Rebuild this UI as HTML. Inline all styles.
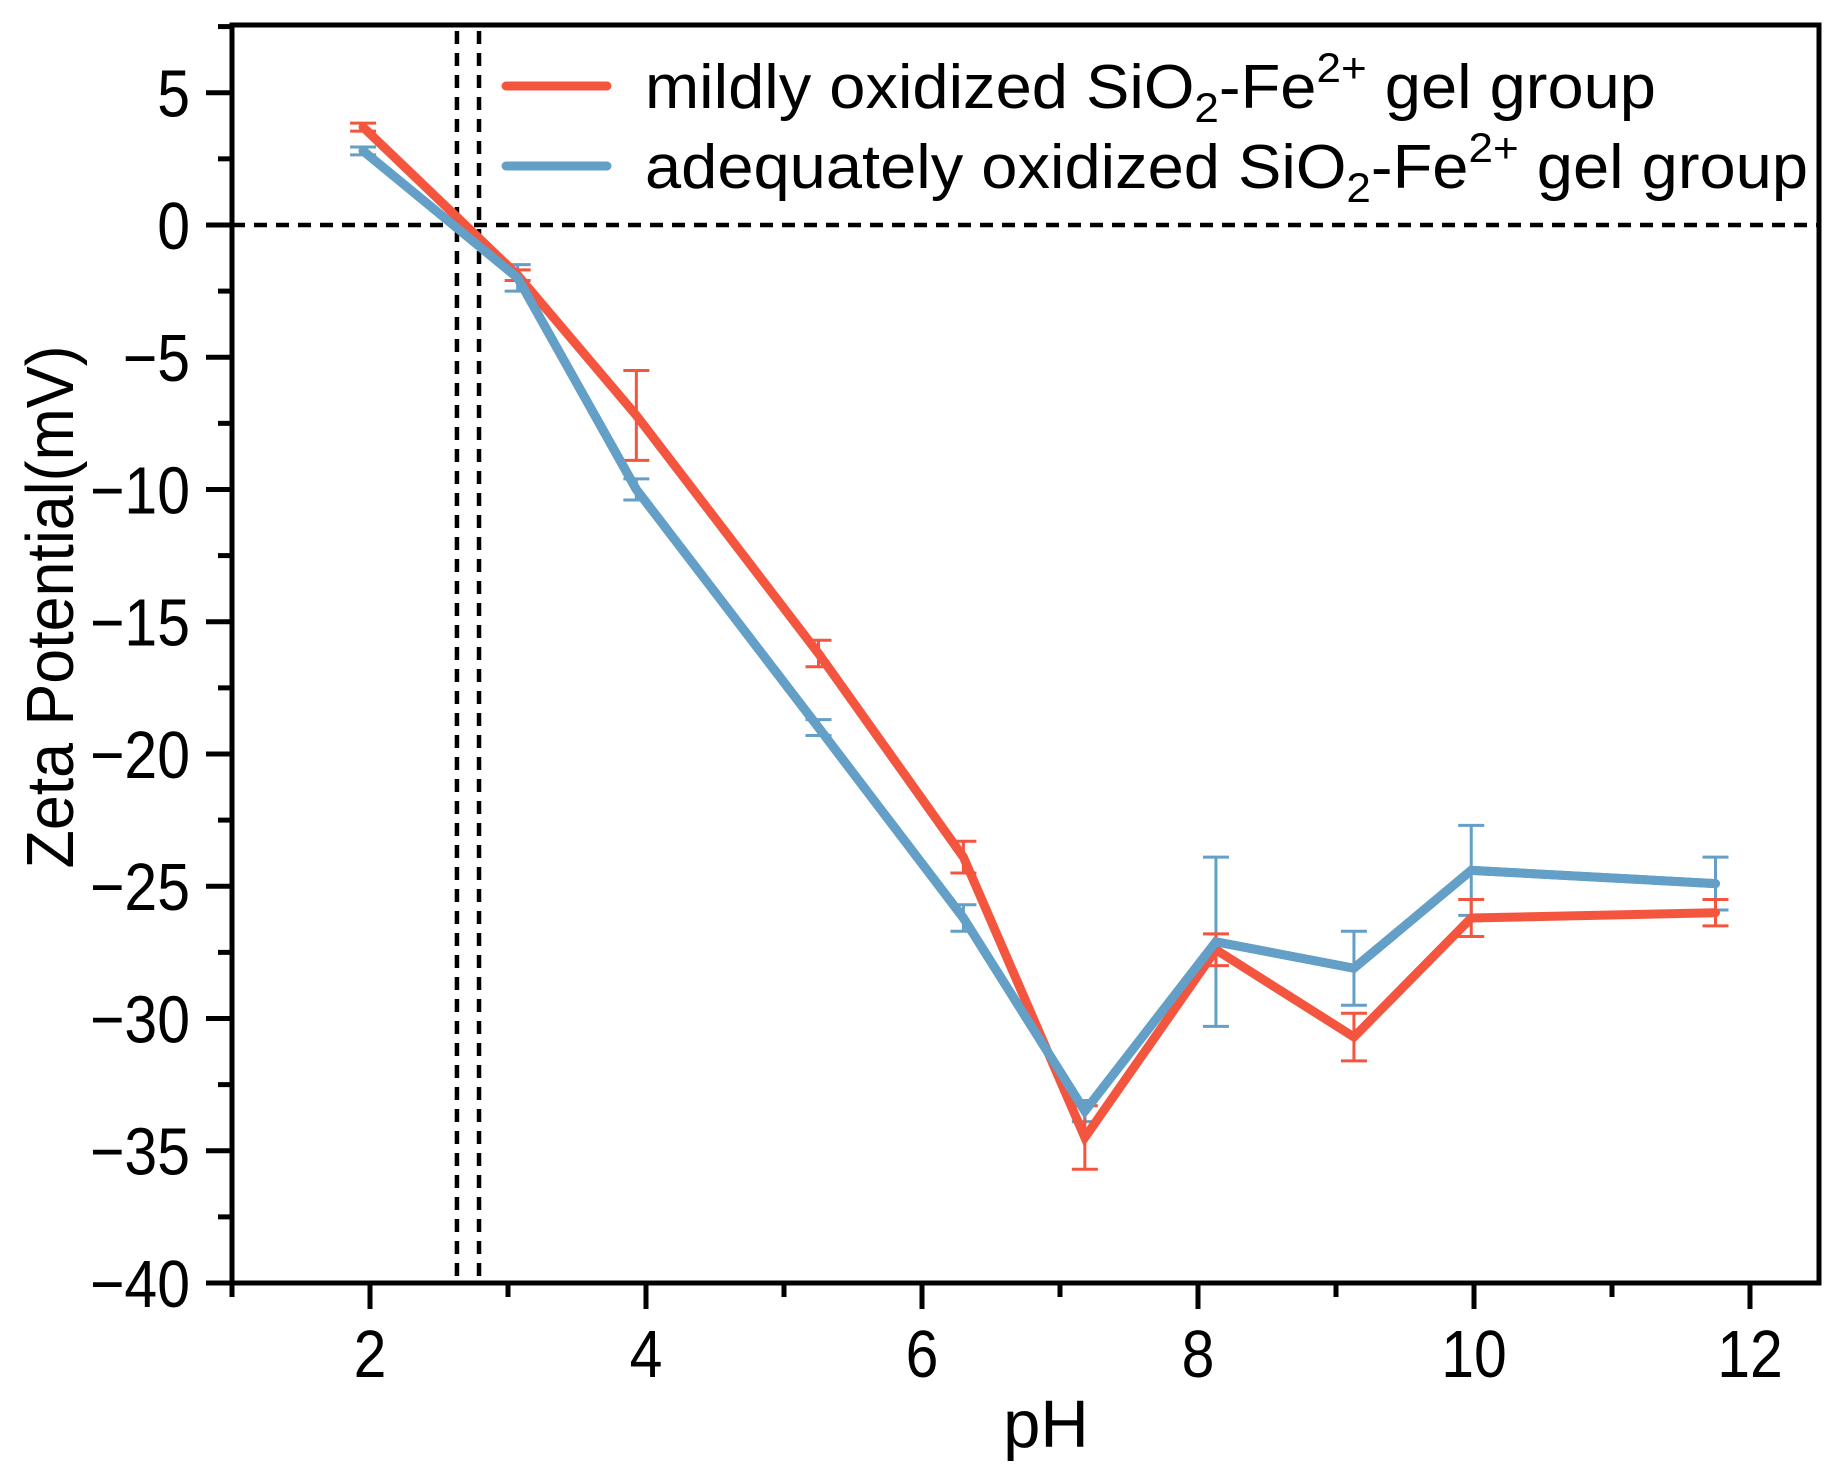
<!DOCTYPE html>
<html><head><meta charset="utf-8"><style>
html,body{margin:0;padding:0;background:#fff}
svg{display:block}
text{font-family:"Liberation Sans",Arial,sans-serif;fill:#000}
</style></head><body>
<svg id="chart" width="1841" height="1483" viewBox="0 0 1841 1483" xmlns="http://www.w3.org/2000/svg">
<g id="plot"></g>
</svg>
<script>
const phRed = [1.95, 3.07, 3.93, 5.25, 6.3, 7.18, 8.13, 9.13, 9.98, 11.75];
const zetaRed = [3.7, -1.9, -7.2, -16.2, -23.9, -34.5, -27.4, -30.7, -26.2, -26.0];
const errRed = [0.15, 0.2, 1.7, 0.5, 0.6, 1.2, 0.6, 0.9, 0.7, 0.5];
const phBlue = [1.95, 3.07, 3.93, 5.25, 6.3, 7.18, 8.13, 9.13, 9.98, 11.75];
const zetaBlue = [2.8, -2.0, -10.0, -19.0, -26.2, -33.5, -27.1, -28.1, -24.4, -24.9];
const errBlue = [0.15, 0.5, 0.4, 0.3, 0.5, 0.4, 3.2, 1.4, 1.7, 1.0];
const xTicks = [2, 4, 6, 8, 10, 12];
const yTicks = [5, 0, -5, -10, -15, -20, -25, -30, -35, -40];
const iepLines = [2.63, 2.79];

const L=232,R=1819,T=25,B=1283;
const X0=1,X1=12.5,Y0=-40,Y1=7.56;
const sx=v=>L+(v-X0)/(X1-X0)*(R-L);
const sy=v=>B-(v-Y0)/(Y1-Y0)*(B-T);
const NS="http://www.w3.org/2000/svg";
const g=document.getElementById('plot');
function mk(tag,attrs,parent){const e=document.createElementNS(NS,tag);for(const k in attrs)e.setAttribute(k,attrs[k]);(parent||g).appendChild(e);return e;}

let z=mk('line',{x1:L,x2:R,y1:sy(0),y2:sy(0),stroke:'#000','stroke-width':4.5,'stroke-dasharray':'13 9'});


iepLines.forEach(v=>{
  const e=mk('line',{x1:sx(v),x2:sx(v),y1:T+6,y2:B,stroke:'#000','stroke-width':4.5,'stroke-dasharray':'13 9'});
  
  
});

function series(xs,ys,es,color,name,withBars){
  const sg=mk('g',{});
  
  
  if(withBars) xs.forEach((x,i)=>{
    const cx=sx(x),t=sy(ys[i]+es[i]),b=sy(ys[i]-es[i]);
    const e=mk('path',{d:`M${cx},${t}V${b}M${cx-13},${t}H${cx+13}M${cx-13},${b}H${cx+13}`,stroke:color,'stroke-width':3,fill:'none'},sg);
    
    
  });
  const p=mk('polyline',{points:xs.map((x,i)=>sx(x)+','+sy(ys[i])).join(' '),fill:'none',stroke:color,'stroke-width':9,'stroke-linejoin':'miter','stroke-linecap':'round'},sg);
  
  
}
series(phBlue,zetaBlue,errBlue,'#639FC6','adequately-oxidized-error-bars',true);
series(phRed,zetaRed,errRed,'#F4553F','mildly-oxidized-series',true);
series(phBlue,zetaBlue,errBlue,'#639FC6','adequately-oxidized-series',false);

const fr=mk('rect',{x:L,y:T,width:R-L,height:B-T,fill:'none',stroke:'#000','stroke-width':5});



for(let v=1;v<=12;v++){
  const major=xTicks.includes(v);
  const t=mk('line',{x1:sx(v),x2:sx(v),y1:B,y2:B+(major?26:14),stroke:'#000','stroke-width':5});
  
  
}
xTicks.forEach(v=>{
  const t=mk('text',{x:sx(v),y:1377,'font-size':67,'text-anchor':'middle',transform:`translate(${sx(v)},0) scale(0.88,1) translate(${-sx(v)},0)`});
  t.textContent=String(v);
  
  
});
for(let v=-40;v<=7.5;v+=2.5){
  const major=yTicks.includes(v);
  const t=mk('line',{x1:L,x2:L-(major?26:14),y1:sy(v),y2:sy(v),stroke:'#000','stroke-width':5});
  
  
}
yTicks.forEach(v=>{
  const t=mk('text',{x:190,y:sy(v)+24,'font-size':67,'text-anchor':'end',transform:`translate(190,0) scale(0.88,1) translate(-190,0)`});
  t.textContent=v<0?'\u2212'+Math.abs(v):String(v);
  
  
});
</script>
<svg width="1841" height="1483" style="position:absolute;left:0;top:0" xmlns="http://www.w3.org/2000/svg">
<text x="1046" y="1447" font-size="67" text-anchor="middle">pH</text>
<text transform="translate(73,607) rotate(-90)" font-size="67" text-anchor="middle" textLength="523" lengthAdjust="spacingAndGlyphs">Zeta Potential(mV)</text>
<g>
<line x1="506" x2="607" y1="86" y2="86" stroke="#F4553F" stroke-width="9" stroke-linecap="round"/>
<text x="645" y="108" font-size="62" textLength="1011" lengthAdjust="spacingAndGlyphs">mildly oxidized SiO<tspan dy="14" font-size="42">2</tspan><tspan dy="-14">-Fe</tspan><tspan dy="-26" font-size="42">2+</tspan><tspan dy="26"> gel group</tspan></text>
<line x1="506" x2="607" y1="166" y2="166" stroke="#639FC6" stroke-width="9" stroke-linecap="round"/>
<text x="645" y="188" font-size="62" textLength="1163" lengthAdjust="spacingAndGlyphs">adequately oxidized SiO<tspan dy="14" font-size="42">2</tspan><tspan dy="-14">-Fe</tspan><tspan dy="-26" font-size="42">2+</tspan><tspan dy="26"> gel group</tspan></text>
</g>
</svg>
</body></html>
